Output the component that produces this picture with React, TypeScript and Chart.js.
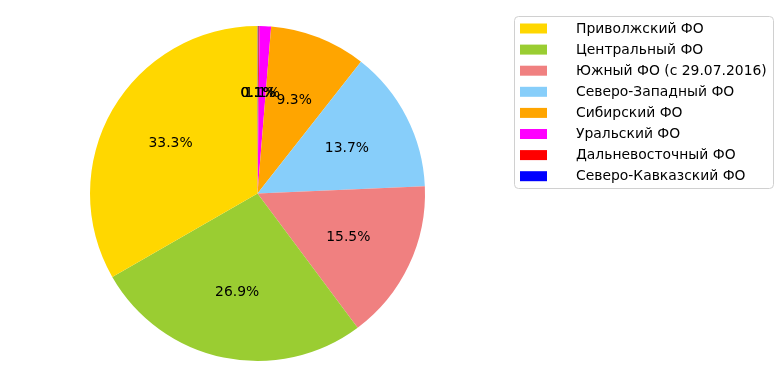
import React, { useEffect, useRef } from "react";
import { Chart, registerables } from "chart.js";

Chart.register(...registerables);

const categories = [
  "Приволжский ФО",
  "Центральный ФО",
  "Южный ФО (с 29.07.2016)",
  "Северо-Западный ФО",
  "Сибирский ФО",
  "Уральский ФО",
  "Дальневосточный ФО",
  "Северо-Кавказский ФО",
];
const values = [33.3, 26.9, 15.5, 13.7, 9.3, 1.1, 0.1, 0.1];
const colors = ["#FFD700", "#9ACD32", "#F08080", "#87CEFA", "#FFA500", "#FF00FF", "#FF0000", "#0000FF"];

const FONT = '13.9px "DejaVu Sans"';

const labelPlugin = {
  id: "pctLabels",
  afterDatasetsDraw(chart: any) {
    const ctx = chart.ctx;
    const meta = chart.getDatasetMeta(0);
    const data = chart.data.datasets[0].data as number[];
    const total = data.reduce((a, b) => a + b, 0);
    ctx.save();
    ctx.font = FONT;
    ctx.fillStyle = "#000";
    ctx.textAlign = "center";
    ctx.textBaseline = "middle";
    for (let i = meta.data.length - 1; i >= 0; i--) {
      const arc: any = meta.data[i];
      const mid = (arc.startAngle + arc.endAngle) / 2;
      const r = arc.outerRadius * 0.6;
      const x = arc.x + Math.cos(mid) * r;
      const y = arc.y + Math.sin(mid) * r + 0.5;
      ctx.fillText(((data[i] / total) * 100).toFixed(1) + "%", x, y);
    }
    ctx.restore();
  },
  afterDraw(chart: any) {
    const ctx = chart.ctx;
    ctx.save();
    const bx = 514.5, by = 16.5, bw = 259, bh = 172, rad = 4;
    ctx.beginPath();
    ctx.moveTo(bx + rad, by);
    ctx.lineTo(bx + bw - rad, by);
    ctx.quadraticCurveTo(bx + bw, by, bx + bw, by + rad);
    ctx.lineTo(bx + bw, by + bh - rad);
    ctx.quadraticCurveTo(bx + bw, by + bh, bx + bw - rad, by + bh);
    ctx.lineTo(bx + rad, by + bh);
    ctx.quadraticCurveTo(bx, by + bh, bx, by + bh - rad);
    ctx.lineTo(bx, by + rad);
    ctx.quadraticCurveTo(bx, by, bx + rad, by);
    ctx.closePath();
    ctx.fillStyle = "rgba(255,255,255,0.8)";
    ctx.fill();
    ctx.strokeStyle = "#d0d0d0";
    ctx.lineWidth = 1;
    ctx.stroke();
    ctx.font = FONT;
    ctx.textAlign = "left";
    ctx.textBaseline = "middle";
    const step = 21.1;
    categories.forEach((c, i) => {
      const cy = 28.5 + i * step;
      ctx.fillStyle = colors[i];
      ctx.fillRect(520, cy - 5, 27, 10);
      ctx.fillStyle = "#000";
      ctx.fillText(c, 576, cy + 0.5);
    });
    ctx.restore();
  },
};

export default function App() {
  const ref = useRef<HTMLCanvasElement>(null);
  useEffect(() => {
    if (!ref.current) return;
    const rev = <T,>(a: T[]) => a.slice().reverse();
    const chart = new Chart(ref.current, {
      type: "pie",
      data: {
        labels: rev(categories),
        datasets: [
          {
            data: rev(values),
            backgroundColor: rev(colors),
            borderWidth: 0,
          },
        ],
      },
      options: {
        responsive: false,
        animation: false,
        events: [],
        layout: { padding: { left: 90, right: 357, top: 26, bottom: 28 } },
        plugins: {
          legend: { display: false },
          tooltip: { enabled: false },
          title: { display: false },
        },
      },
      plugins: [labelPlugin],
    });
    return () => chart.destroy();
  }, []);
  return (
    <div style={{ position: "fixed", left: 0, top: 0, width: 782, height: 389, background: "#fff" }}>
      <canvas ref={ref} width={782} height={389} style={{ width: 782, height: 389, display: "block" }} />
    </div>
  );
}
